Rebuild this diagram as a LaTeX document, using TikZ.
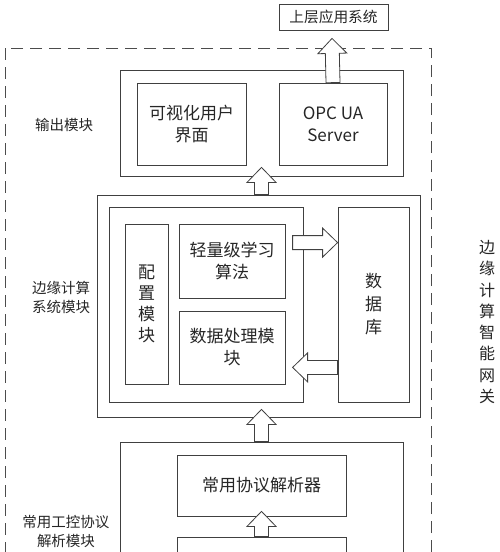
\documentclass[tikz,border=0pt]{standalone}
\usepackage{fontspec}
\newfontfamily\cjk{Noto Sans CJK SC}
\usetikzlibrary{calc}

\begin{document}
\begin{tikzpicture}[x=1pt,y=-1pt,
  box/.style={draw=black!75,line width=0.8pt,inner sep=0pt,align=center,
    text=black!85,font=\cjk\fontsize{17}{22}\selectfont},
  lbl/.style={align=center,text=black!85,font=\cjk\fontsize{14.5}{19}\selectfont},
  fat/.style={draw=black!75,line width=0.8pt,fill=white,line join=miter,
    to path={($(\tikztotarget)!15pt!(\tikztostart)$) coordinate (hb)
      ($(\tikztostart)!7pt!90:(\tikztotarget)$)
      -- ($(hb)!7pt!90:(\tikztotarget)$) -- ($(hb)!14.5pt!90:(\tikztotarget)$)
      -- (\tikztotarget)
      -- ($(hb)!14.5pt!-90:(\tikztotarget)$) -- ($(hb)!7pt!-90:(\tikztotarget)$)
      -- ($(\tikztostart)!7pt!-90:(\tikztotarget)$) -- cycle}}]
  \useasboundingbox (0,0) rectangle (500,552);
  \clip (0,0) rectangle (500,552);

  % gateway boundary
  \draw[black!70,line width=0.8pt,dash pattern=on 12pt off 7pt] (5,48) rectangle (431,600);
  \node[lbl,font=\cjk\fontsize{16}{21.3}\selectfont] (gw) at (487,322)
    {边\\缘\\计\\算\\智\\能\\网\\关};

  % output module
  \node[box,minimum width=109pt,minimum height=26pt,font=\cjk\fontsize{14.7}{18}\selectfont] (top) at (333.5,17) {上层应用系统};
  \node[box,minimum width=283pt,minimum height=106pt] (out) at (261.5,123) {};
  \node[box,minimum width=109pt,minimum height=82pt] (ui) at (191.5,124) {可视化用户\\界面};
  \node[box,minimum width=108pt,minimum height=82pt] (opc) at (333,124) {OPC UA\\Server};
  \node[lbl] (outlbl) at (64,125) {输出模块};

  % edge computing module
  \node[box,minimum width=323pt,minimum height=222pt] (edge) at (258.5,306) {};
  \node[box,minimum width=194pt,minimum height=195pt] (inner) at (206,304.5) {};
  \node[box,minimum width=71pt,minimum height=195pt,font=\cjk\fontsize{17}{23}\selectfont] (db) at (373.5,304.5) {数\\据\\库};
  \node[box,minimum width=43pt,minimum height=160pt,font=\cjk\fontsize{17}{21}\selectfont] (cfg) at (146.5,304) {配\\置\\模\\块};
  \node[box,minimum width=106pt,minimum height=74pt] (algo) at (232,261) {轻量级学习\\算法};
  \node[box,minimum width=106pt,minimum height=73pt] (proc) at (232,347.5) {数据处理模\\块};
  \node[lbl] (edgelbl) at (61,297) {边缘计算\\系统模块};

  % protocol parsing module
  \node[box,minimum width=283pt,minimum height=140pt] (pouter) at (261.5,512) {};
  \node[box,minimum width=169pt,minimum height=61pt] (parser) at (261.5,485.5) {常用协议解析器};
  \node[box,minimum width=169pt,minimum height=50pt] (src) at (261.5,562) {};
  \node[lbl] (plbl) at (66,531) {常用工控协议\\解析模块};

  % arrow ends
  \coordinate (t1) at ($(top.south)+(-1.5,8)$);
  \coordinate (s2) at (out.south |- edge.north);
  \coordinate (t2) at ($(out.south)+(0,-9)$);
  \coordinate (t3) at ($(pouter.north |- edge.south)+(0,-8)$);
  \coordinate (t4) at ($(parser.south)+(0,-5)$);
  \coordinate (s5) at ($(db.north west)+(-45,36)$);
  \coordinate (t5) at ($(db.north west)+(0,36)$);
  \coordinate (s6) at ($(db.south west)+(0,-35)$);
  \coordinate (t6) at ($(db.south west)+(-45,-35)$);

  \draw[fat] (opc.north) to (t1);
  \draw[fat] (s2) to (t2);
  \draw[fat] (pouter.north) to (t3);
  \draw[fat] (src.north) to (t4);
  \draw[fat] (s5) to (t5);
  \draw[fat] (s6) to (t6);
\end{tikzpicture}
\end{document}
